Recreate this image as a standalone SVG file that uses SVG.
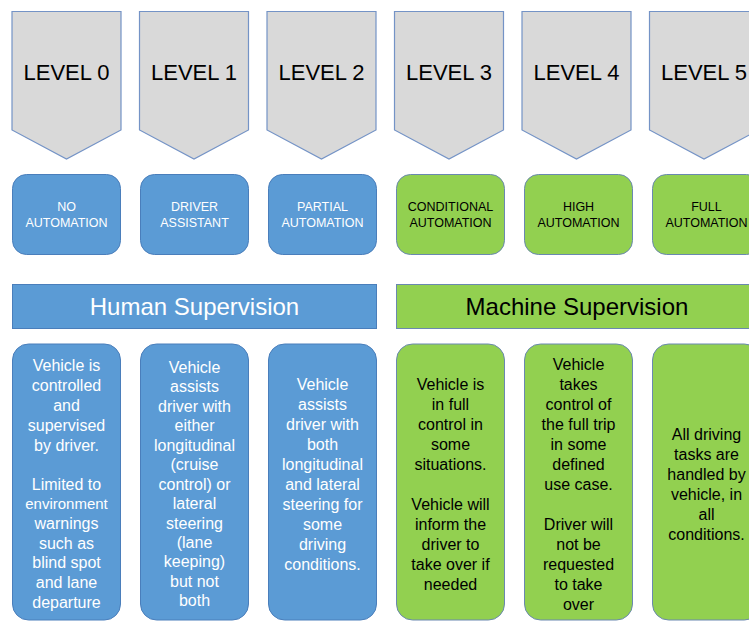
<svg xmlns="http://www.w3.org/2000/svg" width="749" height="621" viewBox="0 0 749 621">
<style>
.chev{fill:#D9D9D9;stroke:#7493C6;stroke-width:1.2}
.blue{fill:#5B9BD5;stroke:#4A7EBB;stroke-width:1}
.green{fill:#92D050;stroke:#6A88B0;stroke-width:1}
.lvl{font-family:"Liberation Sans",Arial,sans-serif;font-size:22px;fill:#000;text-anchor:middle}
.cap{font-family:"Liberation Sans",Arial,sans-serif;font-size:12.5px;text-anchor:middle}
.ban{font-family:"Liberation Sans",Arial,sans-serif;font-size:24px;text-anchor:middle}
.body{font-family:"Liberation Sans",Arial,sans-serif;font-size:16px;text-anchor:middle}
.w{fill:#FFFFFF}
.k{fill:#000000}
</style>
<rect width="749" height="621" fill="#FFFFFF"/>
<g id="level0"><path class="chev" d="M12,11.5 H121 V130 L66.5,159 L12,130 Z"/><text class="lvl" x="66.5" y="80">LEVEL 0</text></g>
<g id="level1"><path class="chev" d="M139.5,11.5 H248.5 V130 L194,159 L139.5,130 Z"/><text class="lvl" x="194" y="80">LEVEL 1</text></g>
<g id="level2"><path class="chev" d="M267,11.5 H376 V130 L321.5,159 L267,130 Z"/><text class="lvl" x="321.5" y="80">LEVEL 2</text></g>
<g id="level3"><path class="chev" d="M394.5,11.5 H503.5 V130 L449,159 L394.5,130 Z"/><text class="lvl" x="449" y="80">LEVEL 3</text></g>
<g id="level4"><path class="chev" d="M522,11.5 H631 V130 L576.5,159 L522,130 Z"/><text class="lvl" x="576.5" y="80">LEVEL 4</text></g>
<g id="level5"><path class="chev" d="M649.5,11.5 H758.5 V130 L704,159 L649.5,130 Z"/><text class="lvl" x="704" y="80">LEVEL 5</text></g>

<g id="cat0"><rect class="blue" x="12.5" y="174.5" width="108" height="80" rx="14"/><text class="cap w" x="66.5" y="211">NO</text><text class="cap w" x="66.5" y="227">AUTOMATION</text></g>
<g id="cat1"><rect class="blue" x="140.5" y="174.5" width="108" height="80" rx="14"/><text class="cap w" x="194.5" y="211">DRIVER</text><text class="cap w" x="194.5" y="227">ASSISTANT</text></g>
<g id="cat2"><rect class="blue" x="268.5" y="174.5" width="108" height="80" rx="14"/><text class="cap w" x="322.5" y="211">PARTIAL</text><text class="cap w" x="322.5" y="227">AUTOMATION</text></g>
<g id="cat3"><rect class="green" x="396.5" y="174.5" width="108" height="80" rx="14"/><text class="cap k" x="450.5" y="211">CONDITIONAL</text><text class="cap k" x="450.5" y="227">AUTOMATION</text></g>
<g id="cat4"><rect class="green" x="524.5" y="174.5" width="108" height="80" rx="14"/><text class="cap k" x="578.5" y="211">HIGH</text><text class="cap k" x="578.5" y="227">AUTOMATION</text></g>
<g id="cat5"><rect class="green" x="652.5" y="174.5" width="108" height="80" rx="14"/><text class="cap k" x="706.5" y="211">FULL</text><text class="cap k" x="706.5" y="227">AUTOMATION</text></g>

<g id="human-supervision"><rect class="blue" x="12.5" y="284.5" width="364" height="44"/><text class="ban w" x="194.5" y="315">Human Supervision</text></g>
<g id="machine-supervision"><rect class="green" x="396.5" y="284.5" width="361" height="44"/><text class="ban k" x="577" y="315">Machine Supervision</text></g>

<g id="desc0"><rect class="blue" x="12.5" y="344" width="108" height="276" rx="16"/>
<text class="body w" x="66.5"><tspan x="66.5" y="371">Vehicle is</tspan><tspan x="66.5" y="391">controlled</tspan><tspan x="66.5" y="411">and</tspan><tspan x="66.5" y="431">supervised</tspan><tspan x="66.5" y="451">by driver.</tspan><tspan x="66.5" y="490">Limited to</tspan><tspan x="66.5" y="509" font-size="15">environment</tspan><tspan x="66.5" y="529">warnings</tspan><tspan x="66.5" y="549">such as</tspan><tspan x="66.5" y="568">blind spot</tspan><tspan x="66.5" y="588">and lane</tspan><tspan x="66.5" y="608">departure</tspan></text></g>
<g id="desc1"><rect class="blue" x="140.5" y="344" width="108" height="276" rx="16"/>
<text class="body w" x="194.5"><tspan x="194.5" y="373">Vehicle</tspan><tspan x="194.5" y="392">assists</tspan><tspan x="194.5" y="412">driver with</tspan><tspan x="194.5" y="431">either</tspan><tspan x="194.5" y="451">longitudinal</tspan><tspan x="194.5" y="470">(cruise</tspan><tspan x="194.5" y="490">control) or</tspan><tspan x="194.5" y="509">lateral</tspan><tspan x="194.5" y="529">steering</tspan><tspan x="194.5" y="548">(lane</tspan><tspan x="194.5" y="567">keeping)</tspan><tspan x="194.5" y="587">but not</tspan><tspan x="194.5" y="606">both</tspan></text></g>
<g id="desc2"><rect class="blue" x="268.5" y="344" width="108" height="276" rx="16"/>
<text class="body w" x="322.5"><tspan x="322.5" y="390">Vehicle</tspan><tspan x="322.5" y="410">assists</tspan><tspan x="322.5" y="430">driver with</tspan><tspan x="322.5" y="450">both</tspan><tspan x="322.5" y="470">longitudinal</tspan><tspan x="322.5" y="490">and lateral</tspan><tspan x="322.5" y="510">steering for</tspan><tspan x="322.5" y="530">some</tspan><tspan x="322.5" y="550">driving</tspan><tspan x="322.5" y="570">conditions.</tspan></text></g>
<g id="desc3"><rect class="green" x="396.5" y="344" width="108" height="276" rx="16"/>
<text class="body k" x="450.5"><tspan x="450.5" y="390">Vehicle is</tspan><tspan x="450.5" y="410">in full</tspan><tspan x="450.5" y="430">control in</tspan><tspan x="450.5" y="450">some</tspan><tspan x="450.5" y="470">situations.</tspan><tspan x="450.5" y="510">Vehicle will</tspan><tspan x="450.5" y="530">inform the</tspan><tspan x="450.5" y="550">driver to</tspan><tspan x="450.5" y="570">take over if</tspan><tspan x="450.5" y="590">needed</tspan></text></g>
<g id="desc4"><rect class="green" x="524.5" y="344" width="108" height="276" rx="16"/>
<text class="body k" x="578.5"><tspan x="578.5" y="370">Vehicle</tspan><tspan x="578.5" y="390">takes</tspan><tspan x="578.5" y="410">control of</tspan><tspan x="578.5" y="430">the full trip</tspan><tspan x="578.5" y="450">in some</tspan><tspan x="578.5" y="470">defined</tspan><tspan x="578.5" y="490">use case.</tspan><tspan x="578.5" y="530">Driver will</tspan><tspan x="578.5" y="550">not be</tspan><tspan x="578.5" y="570">requested</tspan><tspan x="578.5" y="590">to take</tspan><tspan x="578.5" y="610">over</tspan></text></g>
<g id="desc5"><rect class="green" x="652.5" y="344" width="108" height="276" rx="16"/>
<text class="body k" x="706.5"><tspan x="706.5" y="440">All driving</tspan><tspan x="706.5" y="460">tasks are</tspan><tspan x="706.5" y="480">handled by</tspan><tspan x="706.5" y="500">vehicle, in</tspan><tspan x="706.5" y="520">all</tspan><tspan x="706.5" y="540">conditions.</tspan></text></g>
<g id="connectors"></g>
</svg>
